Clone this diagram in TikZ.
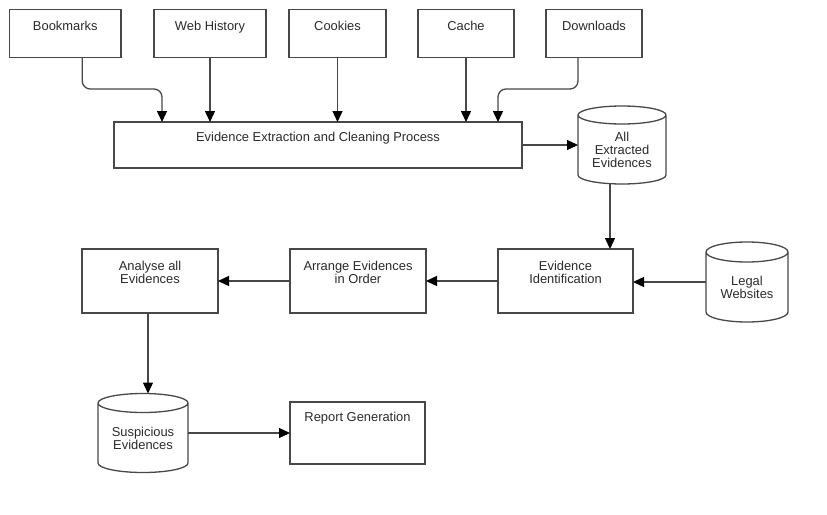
\documentclass[tikz,border=0pt]{standalone}
\usepackage{fontspec}
\setmainfont{Liberation Sans}
\usetikzlibrary{arrows.meta}
\definecolor{ln}{HTML}{484848}
\definecolor{tx}{HTML}{2A2A2A}
\tikzset{
  ln/.style={draw=ln, line width=1.3pt},
  box/.style={ln, rectangle, inner sep=0pt, outer sep=0pt},
  cylb/.style={rectangle, inner sep=0pt, outer sep=0pt},
  txt/.style={text=tx, font=\fontsize{12.9}{13}\selectfont, align=center, inner sep=0pt},
  arr/.style={ln, -{Triangle[length=11pt,width=10pt,color=black]}},
}
\newcommand\cylout[3]{\draw[ln] ([yshift=-#3]#1.north west) -- ([yshift=#3]#1.south west)
  arc[start angle=180,end angle=360,x radius=#2,y radius=#3] -- ([yshift=-#3]#1.north east)
  arc[start angle=0,end angle=360,x radius=#2,y radius=#3];}
\begin{document}
\begin{tikzpicture}[x=1pt,y=-1pt]
\useasboundingbox (0,0) rectangle (827,514);
% top boxes
\node[box, minimum width=111.5pt, minimum height=48pt] (bm) at (65.25,33.5) {};
\node[box, minimum width=112pt, minimum height=48pt] (wh) at (210,33.5) {};
\node[box, minimum width=97pt, minimum height=48pt] (ck) at (337.5,33.5) {};
\node[box, minimum width=96pt, minimum height=48pt] (ca) at (466,33.5) {};
\node[box, minimum width=96pt, minimum height=48pt] (dl) at (594,33.5) {};
\foreach \n/\t in {bm/Bookmarks, wh/Web History, ck/Cookies, ca/Cache, dl/Downloads}
  \node[txt, anchor=north] (\n t) at ([yshift=-11pt]\n.north) {\t};
% extraction
\node[box, minimum width=408pt, minimum height=46pt] (ext) at (318,145) {};
\node[txt, anchor=north] (extt) at ([yshift=-10pt]ext.north) {Evidence Extraction and Cleaning Process};
% all extracted cylinder
\node[cylb, minimum width=88pt, minimum height=78pt] (ae) at (622,145) {};
\cylout{ae}{44pt}{9pt}
\node[txt] (aet) at ([yshift=-5pt]ae.center) {All\\Extracted\\Evidences};
% middle row
\node[box, minimum width=135pt, minimum height=64pt] (ei) at (565.5,281) {};
\node[txt, anchor=north] (eit) at ([yshift=-11.5pt]ei.north) {Evidence\\Identification};
\node[cylb, minimum width=82pt, minimum height=80pt] (lw) at (747,282) {};
\cylout{lw}{41pt}{10pt}
\node[txt] (lwt) at ([yshift=-5pt]lw.center) {Legal\\Websites};
\node[box, minimum width=136pt, minimum height=64pt] (ar) at (358,281) {};
\node[txt, anchor=north] (art) at ([yshift=-11.5pt]ar.north) {Arrange Evidences\\in Order};
\node[box, minimum width=136pt, minimum height=64pt] (an) at (150,281) {};
\node[txt, anchor=north] (ant) at ([yshift=-11.5pt]an.north) {Analyse all\\Evidences};
% bottom row
\node[cylb, minimum width=90pt, minimum height=79pt] (se) at (143,433) {};
\cylout{se}{45pt}{9.5pt}
\node[txt] (set) at ([yshift=-5.5pt]se.center) {Suspicious\\Evidences};
\node[box, minimum width=135pt, minimum height=62pt] (rg) at (357.5,433) {};
\node[txt, anchor=north] (rgt) at ([yshift=-10pt]rg.north) {Report Generation};
% connectors
\draw[arr, rounded corners=8pt] ([xshift=17pt]bm.south) -- ([xshift=17pt,yshift=-31.5pt]bm.south) -| ([xshift=48pt]ext.north west);
\draw[arr] (wh.south) -- (wh.south |- ext.north);
\draw[arr] (ck.south) -- (ck.south |- ext.north);
\draw[arr] (ca.south) -- (ca.south |- ext.north);
\draw[arr, rounded corners=8pt] ([xshift=-16pt]dl.south) -- ([xshift=-16pt,yshift=-31.5pt]dl.south) -| ([xshift=-24pt]ext.north east);
\draw[arr] (ext.east) -- (ae.west);
\draw[arr] ([xshift=-12pt]ae.south) -- ([xshift=-12pt]ae.south |- ei.north);
\draw[arr] (lw.west) -- (lw.west -| ei.east);
\draw[arr] (ei.west) -- (ei.west -| ar.east);
\draw[arr] (ar.west) -- (ar.west -| an.east);
\draw[arr] ([xshift=-2pt]an.south) -- ([xshift=-2pt]an.south |- se.north);
\draw[arr] (se.east) -- (se.east -| rg.west);
\end{tikzpicture}
\end{document}
